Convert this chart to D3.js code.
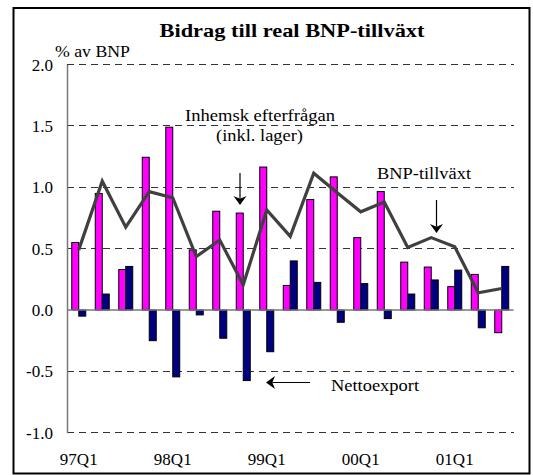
<!DOCTYPE html>
<html lang="sv">
<head>
<meta charset="utf-8">
<title>Bidrag till real BNP-tillväxt</title>
<style>
  body { margin: 0; background: #fff; }
  svg text { font-family: "Liberation Serif", "Times New Roman", serif; fill: #000; }
  .title { font-weight: bold; font-size: 19.5px; }
  .note { font-size: 17px; }
  .axis text { font-size: 17px; }
  .grid line { stroke: #333; stroke-width: 1; stroke-dasharray: 7,5; shape-rendering: crispEdges; }
  .inhemsk { fill: #ff00ff; stroke: #000; stroke-width: 1; }
  .netto { fill: #000080; stroke: #000; stroke-width: 1; }
</style>
</head>
<body>
<div id="chart"></div>

<script src="https://d3js.org/d3.v7.min.js"></script>
<script>
  // kvartal 97Q1 - 01Q3
  var quarters = ["97Q1", "97Q2", "97Q3", "97Q4",
                  "98Q1", "98Q2", "98Q3", "98Q4",
                  "99Q1", "99Q2", "99Q3", "99Q4",
                  "00Q1", "00Q2", "00Q3", "00Q4",
                  "01Q1", "01Q2", "01Q3"];

  // Inhemsk efterfrågan (inkl. lager)
  var inhemsk = [0.55, 0.95, 0.33, 1.245, 1.49, 0.49, 0.805, 0.79, 1.165, 0.20,
                 0.90, 1.085, 0.59, 0.965, 0.39, 0.35, 0.19, 0.29, -0.185];

  // Nettoexport
  var netto = [-0.05, 0.13, 0.355, -0.25, -0.545, -0.04, -0.23, -0.575, -0.34, 0.40,
               0.225, -0.10, 0.215, -0.07, 0.13, 0.245, 0.325, -0.145, 0.355];

  // BNP-tillväxt
  var bnp = [0.49, 1.05, 0.675, 0.965, 0.915, 0.435, 0.57, 0.205, 0.815, 0.60,
             1.115, 0.955, 0.80, 0.88, 0.51, 0.59, 0.515, 0.14, 0.175];

  var yTicks = [-1.0, -0.5, 0.0, 0.5, 1.0, 1.5, 2.0];
  var xTicks = ["97Q1", "98Q1", "99Q1", "00Q1", "01Q1"];

  var W = 533, H = 475;
  var pLeft = 67, pRight = 513.5, pTop = 64.6, pBottom = 432.7;
  var serif = "'Liberation Serif', 'Times New Roman', serif";

  var svg = d3.select("#chart")
    .append("svg")
    .attr("width", W)
    .attr("height", H);

  // ram
  svg.append("rect")
    .attr("x", 13.5).attr("y", 8)
    .attr("width", 516).attr("height", 465.5)
    .attr("fill", "#fff")
    .attr("stroke", "#000")
    .attr("stroke-width", 2);

  var x = d3.scaleBand().domain(quarters).range([pLeft, pRight]);
  var x1 = d3.scaleBand().domain(["inhemsk", "netto"])
    .range([x.bandwidth() / 2 - 7, x.bandwidth() / 2 + 7]);
  var y = d3.scaleLinear().domain([-1, 2]).range([pBottom, pTop]);

  // stödlinjer
  svg.append("g")
    .attr("class", "grid")
    .selectAll("line")
    .data(yTicks.filter(function(d) { return d !== 0; }))
    .enter()
    .append("line")
    .attr("x1", pLeft).attr("x2", pRight)
    .attr("y1", function(d) { return y(d); })
    .attr("y2", function(d) { return y(d); });

  var rows = quarters.map(function(q, i) {
    return { q: q, inhemsk: inhemsk[i], netto: netto[i], bnp: bnp[i] };
  });

  var bars = svg.append("g");

  bars.selectAll(".inhemsk")
    .data(rows)
    .enter()
    .append("rect")
    .attr("class", "inhemsk")
    .attr("x", function(d) { return x(d.q) + x1("inhemsk"); })
    .attr("y", function(d) { return y(Math.max(0, d.inhemsk)); })
    .attr("width", x1.bandwidth())
    .attr("height", function(d) { return Math.abs(y(d.inhemsk) - y(0)); });

  bars.selectAll(".netto")
    .data(rows)
    .enter()
    .append("rect")
    .attr("class", "netto")
    .attr("x", function(d) { return x(d.q) + x1("netto"); })
    .attr("y", function(d) { return y(Math.max(0, d.netto)); })
    .attr("width", x1.bandwidth())
    .attr("height", function(d) { return Math.abs(y(d.netto) - y(0)); });

  // nollinje
  svg.append("line")
    .attr("x1", pLeft).attr("x2", pRight)
    .attr("y1", y(0)).attr("y2", y(0))
    .attr("stroke", "#777")
    .attr("stroke-width", 1.5);

  var line = d3.line()
    .x(function(d) { return x(d.q) + x.bandwidth() / 2; })
    .y(function(d) { return y(d.bnp); });

  svg.append("path")
    .datum(rows)
    .attr("d", line)
    .attr("fill", "none")
    .attr("stroke", "#404040")
    .attr("stroke-width", 3.2)
    .attr("stroke-linejoin", "miter");

  // axlar
  var yAxis = svg.append("g")
    .attr("class", "axis")
    .attr("transform", "translate(" + pLeft + ",0)")
    .call(d3.axisLeft(y)
      .tickValues(yTicks)
      .tickSize(0)
      .tickPadding(14)
      .tickFormat(function(d) { return d.toFixed(1); }));
  yAxis.select(".domain").attr("stroke", "#777").attr("stroke-width", 1.5);

  var xAxis = svg.append("g")
    .attr("class", "axis")
    .attr("transform", "translate(0," + pBottom + ")")
    .call(d3.axisBottom(x)
      .tickValues(xTicks)
      .tickSize(0)
      .tickPadding(20));
  xAxis.select(".domain").remove();

  svg.selectAll(".axis").attr("font-family", serif).attr("font-size", 17);

  // texter
  svg.append("text")
    .attr("class", "title")
    .attr("x", 159.5).attr("y", 37)
    .attr("font-family", serif)
    .attr("textLength", 265)
    .attr("lengthAdjust", "spacingAndGlyphs")
    .text("Bidrag till real BNP-tillväxt");

  function note(txt, xs, ys, len) {
    svg.append("text")
      .attr("class", "note")
      .attr("x", xs).attr("y", ys)
      .attr("font-family", serif)
      .attr("textLength", len)
      .attr("lengthAdjust", "spacingAndGlyphs")
      .text(txt);
  }
  note("% av BNP", 55, 57, 75);
  note("Inhemsk efterfrågan", 185, 120.5, 150);
  note("(inkl. lager)", 216, 141, 87);
  note("BNP-tillväxt", 377, 178.5, 94);
  note("Nettoexport", 331, 391, 88);

  // pilar
  function arrow(xa, ya, xb, yb) {
    var a = Math.atan2(yb - ya, xb - xa);
    var len = 9, half = 6.5;
    var bx = xb - len * Math.cos(a), by = yb - len * Math.sin(a);
    var nx = -Math.sin(a), ny = Math.cos(a);
    var mx = xb - len * 0.7 * Math.cos(a), my = yb - len * 0.7 * Math.sin(a);
    svg.append("line")
      .attr("x1", xa).attr("y1", ya)
      .attr("x2", mx).attr("y2", my)
      .attr("stroke", "#000").attr("stroke-width", 1.2);
    svg.append("path")
      .attr("d", "M" + xb + "," + yb +
                 "L" + (bx + nx * half) + "," + (by + ny * half) +
                 "L" + mx + "," + my +
                 "L" + (bx - nx * half) + "," + (by - ny * half) + "Z")
      .attr("fill", "#000");
  }
  arrow(240, 173, 240, 205);
  arrow(436.5, 200, 436.5, 233);
  arrow(310, 382.5, 266, 382.5);
</script>
</body>
</html>
